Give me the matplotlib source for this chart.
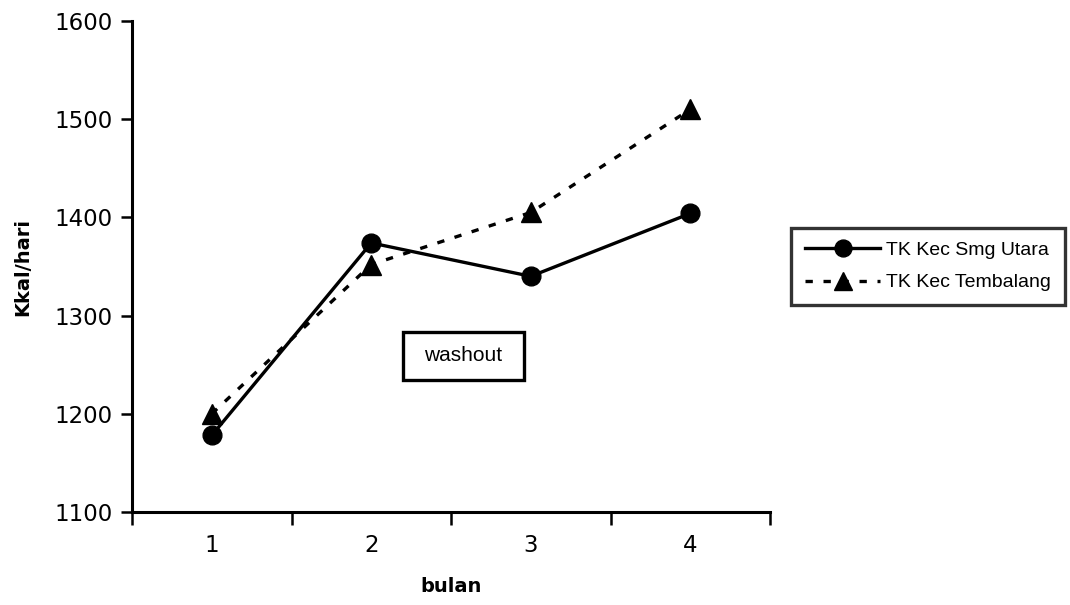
import matplotlib
matplotlib.use("Agg")
import matplotlib.pyplot as plt
from matplotlib import font_manager
from matplotlib.patches import Rectangle

# ---- data ----
months = [1, 2, 3, 4]
month_labels = ["1", "2", "3", "4"]
smg_utara = [1178, 1374, 1340, 1404]
tembalang = [1200, 1352, 1405, 1510]
series_names = ["TK Kec Smg Utara", "TK Kec Tembalang"]
y_ticks = [1100, 1200, 1300, 1400, 1500, 1600]

avail = {f.name for f in font_manager.fontManager.ttflist}
narrow = "Liberation Sans Narrow" if "Liberation Sans Narrow" in avail else "Liberation Sans"

fig = plt.figure(figsize=(10.70, 6.05), dpi=100)
ax = fig.add_axes([132/1070, 93/605, 638/1070, 491/605])

ax.plot(months, smg_utara, color="black", lw=2.4, marker="o", ms=13.5,
        label=series_names[0])
ax.plot(months, tembalang, color="black", lw=2.4, ls=(0, (2.2, 3.2)), marker="^",
        ms=15, label=series_names[1])

ax.set_xlim(0.5, 4.5)
ax.set_ylim(1100, 1600)
ax.set_yticks(y_ticks)
ax.set_yticklabels([str(v) for v in y_ticks])
ax.set_xticks([0.5, 1.5, 2.5, 3.5, 4.5])
ax.set_xticklabels([])
ax.set_xticks(months, minor=True)
ax.set_xticklabels(month_labels, minor=True)
ax.tick_params(axis="x", which="major", direction="out", length=9, width=1.8)
ax.tick_params(axis="x", which="minor", length=0, pad=16, labelsize=16.5)
ax.tick_params(axis="y", direction="out", length=8, width=1.8, labelsize=16.5, pad=6)

for s in ["top", "right"]:
    ax.spines[s].set_visible(False)
for s in ["left", "bottom"]:
    ax.spines[s].set_linewidth(2.2)

ax.set_xlabel("bulan", fontsize=14, fontweight="bold", labelpad=14)
ax.set_ylabel("Kkal/hari", fontsize=14, fontweight="bold", labelpad=16)

# washout annotation box
ax.add_patch(Rectangle((0.4243, 0.2688), 0.19, 0.0984, transform=ax.transAxes,
                       facecolor="white", edgecolor="black", lw=2.4, zorder=3))
ax.text(0.519, 0.318, "washout", transform=ax.transAxes, ha="center", va="center",
        fontsize=15, family=narrow, zorder=4)

leg = fig.legend(loc="upper left", bbox_to_anchor=(791/1070, 1 - 228/605),
                 bbox_transform=fig.transFigure, frameon=True, fancybox=False,
                 prop={"family": narrow, "size": 14}, handlelength=3.9,
                 handletextpad=0.3, borderpad=0.7, labelspacing=0.75,
                 borderaxespad=0, markerscale=0.9)
leg.get_frame().set_edgecolor("black")
leg.get_frame().set_linewidth(2.4)

fig.savefig("out.png", dpi=100)
